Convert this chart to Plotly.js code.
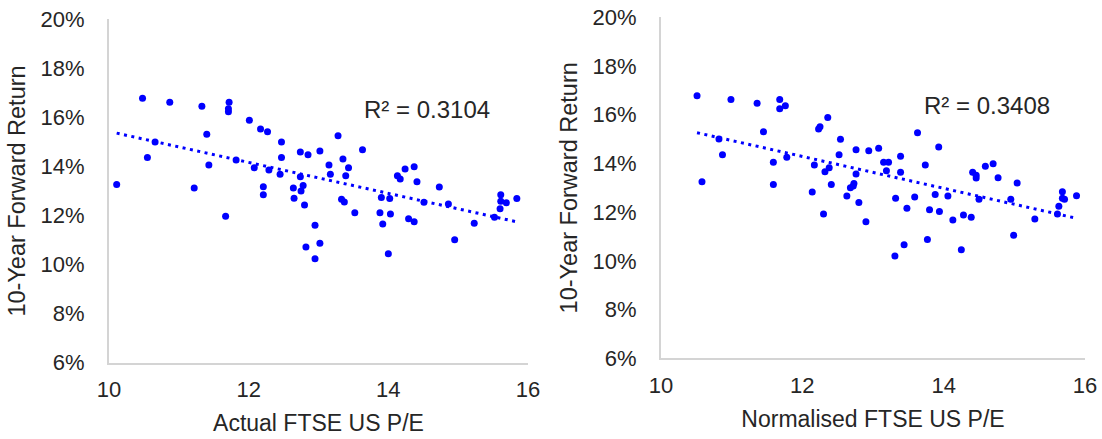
<!DOCTYPE html>
<html>
<head>
<meta charset="utf-8">
<script src="https://cdn.plot.ly/plotly-3.0.1.min.js"></script>
<style>html,body{margin:0;padding:0;background:#fff;}#chart{width:1102px;height:439px;}</style>
</head>
<body>
<div id="chart"></div>
<script>
// Left panel: Actual FTSE US P/E vs 10-year forward return (%)
const actualPE = [10.11,10.48,10.55,10.66,10.87,11.22,11.33,11.40,11.43,11.67,11.72,11.71,11.71,11.82,12.01,12.08,12.17,12.21,12.21,12.27,12.29,12.45,12.47,12.47,12.64,12.65,12.74,12.74,12.75,12.78,12.80,12.85,12.95,12.82,13.02,12.95,13.02,13.15,13.17,13.28,13.35,13.43,13.39,13.63,13.33,13.37,13.52,13.88,13.90,14.02,13.92,14.03,14.00,14.13,14.17,14.24,14.37,14.41,14.29,14.37,14.51,14.73,14.86,14.95,15.23,15.52,15.60,15.61,15.61,15.69,15.84];
const actualRet = [13.27,16.78,14.37,15.00,16.62,13.12,16.46,15.31,14.06,11.97,16.62,16.35,16.23,14.26,15.88,13.95,15.53,13.17,12.85,15.42,13.86,13.68,15.00,14.37,13.12,12.70,14.59,13.58,13.00,13.22,12.43,14.48,11.60,10.72,10.87,10.24,14.63,14.06,13.68,15.25,14.30,13.95,13.62,14.68,12.66,12.55,12.11,12.11,12.74,12.69,11.65,12.06,10.44,13.62,13.49,13.90,13.99,13.38,11.87,11.75,12.54,13.16,12.47,11.01,11.69,11.93,12.28,12.58,12.85,12.52,12.69];
// Right panel: Normalised FTSE US P/E vs 10-year forward return (%)
const normPE = [10.51,10.58,10.82,10.87,10.99,11.36,11.45,11.59,11.59,11.68,11.68,11.76,11.78,12.14,12.17,12.23,12.25,12.30,12.32,12.38,12.36,12.41,12.52,12.54,12.63,12.68,12.72,12.73,12.76,12.76,12.80,12.90,12.94,13.08,13.15,13.22,13.19,13.39,13.39,13.31,13.32,13.44,13.48,13.59,13.63,13.74,13.77,13.80,13.88,13.93,13.94,14.06,14.13,14.25,14.28,14.39,14.41,14.46,14.46,14.59,14.70,14.77,14.50,14.95,14.99,15.04,15.29,15.61,15.63,15.68,15.68,15.71,15.88];
const normRet = [16.78,13.25,15.00,14.36,16.63,16.47,15.30,14.05,13.14,16.63,16.25,16.37,14.25,12.83,13.94,15.41,15.51,11.92,13.66,13.82,15.89,13.14,14.36,14.99,12.66,13.00,13.07,13.18,13.57,14.56,12.40,11.61,14.52,14.62,14.05,14.05,13.70,14.30,13.64,10.20,12.57,10.66,12.16,12.62,15.26,13.94,10.88,12.10,12.72,14.67,12.03,12.66,11.68,10.46,11.88,11.79,13.64,13.52,13.40,13.88,13.99,13.41,12.53,12.53,11.05,13.20,11.72,11.92,12.24,12.84,12.57,12.53,12.67];
const r2Labels = ["R² = 0.3104", "R² = 0.3408"];
const xTitles = ["Actual FTSE US P/E", "Normalised FTSE US P/E"];
const yTitle = "10-Year Forward Return";

function trend(xs, ys) {
  const n = xs.length;
  const mx = xs.reduce((a,b)=>a+b,0)/n, my = ys.reduce((a,b)=>a+b,0)/n;
  let sxy=0, sxx=0;
  for (let i=0;i<n;i++){ sxy+=(xs[i]-mx)*(ys[i]-my); sxx+=(xs[i]-mx)*(xs[i]-mx); }
  const b = sxy/sxx, a = my - b*mx;
  const x0 = Math.min(...xs), x1 = Math.max(...xs);
  return {x:[x0,x1], y:[a+b*x0, a+b*x1]};
}

const blue = '#0000FF';
const tL = trend(actualPE, actualRet), tR = trend(normPE, normRet);
const mk = {color: blue, size: 7};
const ln = {color: blue, width: 3, dash: '3px,4.5px'};
const data = [
  {x: tL.x, y: tL.y, mode:'lines', line: ln, xaxis:'x', yaxis:'y', hoverinfo:'skip'},
  {x: actualPE, y: actualRet, mode:'markers', type:'scatter', marker: mk, xaxis:'x', yaxis:'y'},
  {x: tR.x, y: tR.y, mode:'lines', line: ln, xaxis:'x2', yaxis:'y2', hoverinfo:'skip'},
  {x: normPE, y: normRet, mode:'markers', type:'scatter', marker: mk, xaxis:'x2', yaxis:'y2'}
];
const font = {family: 'Liberation Sans, Arial, sans-serif', color: '#262626'};
const tickFont = {family: font.family, size: 22, color: '#262626'};
function xax(domain, title, anchor) {
  return {domain, range:[10,16], dtick:2, tick0:10, showline:true, linecolor:'#d4d4d4', linewidth:2,
    showgrid:false, zeroline:false, ticks:'', ticklabelstandoff:6, tickfont: tickFont, anchor,
    title:{text:title, font:{family: font.family, size: 23, color:'#262626'}, standoff:14}, automargin:false};
}
function yax(domain, anchor) {
  return {domain, range:[6,20], dtick:2, tick0:6, ticksuffix:'%', showline:true, linecolor:'#d4d4d4', linewidth:2,
    showgrid:false, zeroline:false, ticks:'', ticklabelstandoff:18, tickfont: tickFont, anchor,
    title:{text:yTitle, font:{family: font.family, size: 23.5, color:'#262626'}, standoff:8}, automargin:false};
}
const W = 1102, H = 439;
const layout = {
  width: W, height: H, margin:{l:0,r:0,t:0,b:0}, showlegend:false,
  paper_bgcolor:'#fff', plot_bgcolor:'#fff', font: font,
  xaxis: xax([109/W, 528/W], xTitles[0], 'y'),
  yaxis: yax([1-362.7/H, 1-19.3/H], 'x'),
  xaxis2: xax([661/W, 1085/W], xTitles[1], 'y2'),
  yaxis2: yax([1-358.3/H, 1-17.3/H], 'x2'),
  annotations: [
    {xref:'paper', yref:'paper', x:427/W, y:1-110/H, text:r2Labels[0], showarrow:false, font:{family:font.family, size:24, color:'#262626'}, xanchor:'center', yanchor:'middle'},
    {xref:'paper', yref:'paper', x:987/W, y:1-106/H, text:r2Labels[1], showarrow:false, font:{family:font.family, size:24, color:'#262626'}, xanchor:'center', yanchor:'middle'}
  ]
};
Plotly.newPlot('chart', data, layout, {displayModeBar:false, staticPlot:true});
</script>
</body>
</html>
